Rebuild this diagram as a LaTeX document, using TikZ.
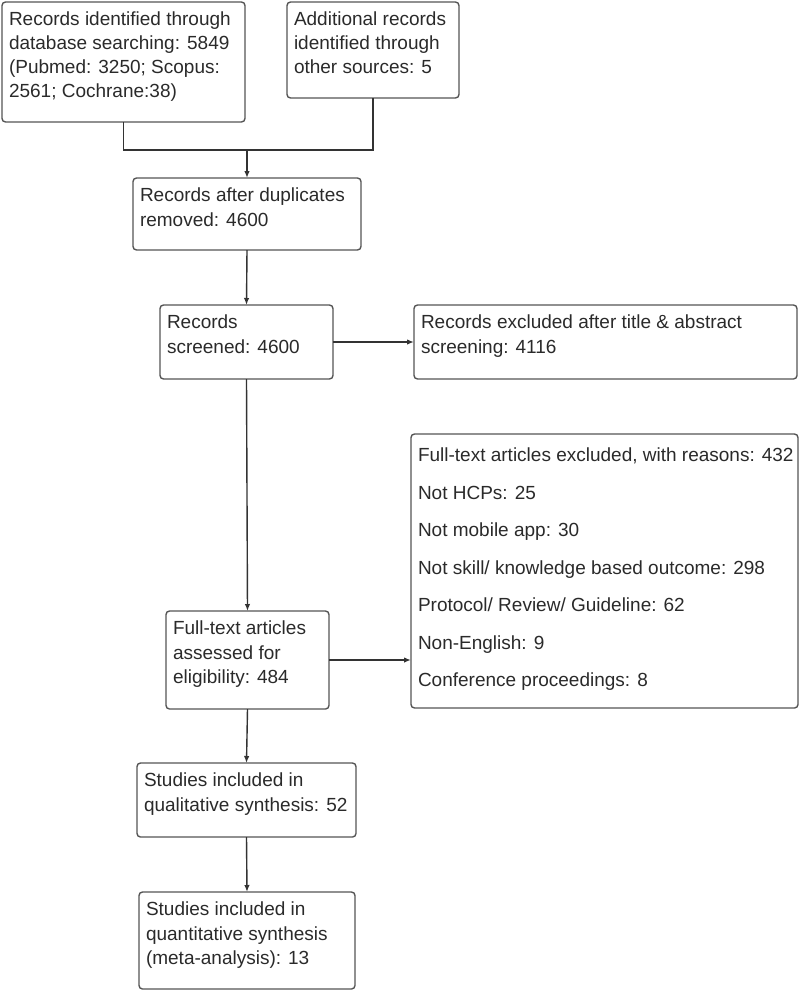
\documentclass[tikz,border=0pt]{standalone}
\usepackage{fontspec}
\setmainfont{Liberation Sans}
\usetikzlibrary{arrows.meta}
\definecolor{boxgray}{HTML}{555555}
\definecolor{linegray}{HTML}{333333}
\definecolor{txtgray}{HTML}{2A2A2A}
\newcommand\bt[5]{\parbox[c][#2pt][t]{#1pt}{\raggedright\setlength\leftskip{7pt}\fontsize{19}{#4}\selectfont\color{txtgray}\vspace*{#5pt}#3}}
\tikzset{
  bx/.style={draw=boxgray, line width=1.4pt, rounded corners=3.5pt, inner sep=0pt, outer sep=0pt, anchor=north west},
  arr/.style={draw=linegray, line width=1.4pt, -{Latex[length=7pt,width=5.5pt]}},
  ln/.style={draw=linegray, line width=1.4pt}
}
\begin{document}
\begin{tikzpicture}[x=1pt,y=-1pt]
\useasboundingbox (0,0) rectangle (800,991);
\node[bx] (A) at (2,2) {\bt{243}{120}{Records identified through\\database searching: 5849\\(Pubmed: 3250; Scopus:\\2561; Cochrane:38)}{24}{10}};
\node[bx] (B) at (287,2) {\bt{172}{96}{Additional records\\identified through\\other sources: 5}{24}{10}};
\node[bx] (C) at (133,178) {\bt{228}{72}{Records after duplicates\\removed: 4600}{25}{10}};
\node[bx] (D) at (160,305) {\bt{173}{74}{Records\\screened: 4600}{25}{10}};
\node[bx] (E) at (414,305) {\bt{383}{74}{Records excluded after title \& abstract\\screening: 4116}{25}{10}};
\node[bx] (F) at (166,611) {\bt{163}{98}{Full-text articles\\assessed for\\eligibility: 484}{24.5}{10}};
\node[bx] (G) at (411,434) {\bt{387}{274}{Full-text articles excluded, with reasons: 432\\Not HCPs: 25\\Not mobile app: 30\\Not skill/ knowledge based outcome: 298\\Protocol/ Review/ Guideline: 62\\Non-English: 9\\Conference proceedings: 8}{37.5}{14}};
\node[bx] (H) at (137,763) {\bt{219}{74}{Studies included in\\qualitative synthesis: 52}{25}{10}};
\node[bx] (I) at (139,892) {\bt{216}{97}{Studies included in\\quantitative synthesis\\(meta-analysis): 13}{24.5}{10}};
\coordinate (m) at (247,150);
\draw[ln] (A.south) -- (A.south |- m) -- (B.south |- m) -- (B.south);
\draw[arr] (m) -- (C.north);
\draw[arr] (C.south) -- (D.north);
\draw[arr] (D.east) -- (E.west);
\draw[arr] (D.south) -- (F.north);
\draw[arr] (F.east) -- (F.east -| G.west);
\draw[arr] (F.south) -- (H.north);
\draw[arr] (H.south) -- (I.north);
\end{tikzpicture}
\end{document}
